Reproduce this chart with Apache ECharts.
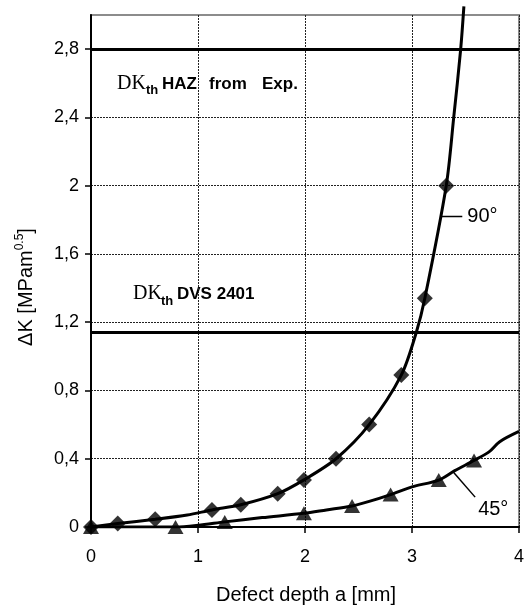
<!DOCTYPE html>
<html>
<head>
<meta charset="utf-8">
<script src="https://cdn.jsdelivr.net/npm/echarts@6/dist/echarts.min.js"></script>
<style>
  html, body { margin: 0; padding: 0; background: #fff; }
  #chart { width: 527px; height: 607px; }
</style>
</head>
<body>
<div id="chart"></div>
<script>
// axis ticks
var xTicks = [0, 1, 2, 3, 4];
var yTicks = [0, 0.4, 0.8, 1.2, 1.6, 2, 2.4, 2.8];

// threshold levels (DK_th HAZ from Exp., DK_th DVS 2401)
var refLevels = [2.8, 1.14];

// 90° curve: diamond markers and the drawn line (line keeps rising past the top)
var marks90 = [[0, 0], [0.25, 0.02], [0.6, 0.045], [1.13, 0.1], [1.4, 0.13], [1.745, 0.195],
  [1.99, 0.276], [2.29, 0.4], [2.6, 0.6], [2.9, 0.89], [3.12, 1.34], [3.32, 2.0]];
var line90 = [[0, 0], [0.25, 0.02], [0.6, 0.045], [0.9, 0.07], [1.13, 0.1], [1.4, 0.13], [1.745, 0.195],
  [1.99, 0.276], [2.29, 0.4], [2.6, 0.6], [2.9, 0.89], [3.04, 1.14], [3.12, 1.34], [3.32, 2.0],
  [3.39, 2.4], [3.455, 2.8], [3.485, 3.05]];

// 45° curve: triangle markers and the drawn line
var marks45 = [[0, 0], [0.79, 0], [1.25, 0.03], [1.99, 0.08], [2.44, 0.123], [2.8, 0.19],
  [3.25, 0.275], [3.58, 0.39]];
var line45 = [[0, 0], [0.79, 0], [1.0, 0.01], [1.25, 0.03], [1.6, 0.055], [1.99, 0.08], [2.2, 0.1],
  [2.44, 0.123], [2.6, 0.15], [2.8, 0.19], [3.0, 0.235], [3.25, 0.275], [3.4, 0.33], [3.58, 0.39],
  [3.72, 0.44], [3.82, 0.5], [4.0, 0.56]];

// label leaders
var leader90 = [[3.28, 1.82], [3.47, 1.82]];
var leader45 = [[3.39, 0.32], [3.59, 0.175]];

var sans = 'Liberation Sans, Arial, sans-serif';
var serif = 'Liberation Serif, Times New Roman, serif';

var option = {
  animation: false,
  backgroundColor: '#fff',
  grid: {
    left: 91, right: 1, top: 15, bottom: 80,
    show: true,
    borderColor: '#8c8c8c',
    borderWidth: 2
  },
  xAxis: {
    type: 'value',
    min: 0, max: 4, interval: 1,
    axisLine: { lineStyle: { color: '#000', width: 2 } },
    axisTick: { show: true, length: 6, lineStyle: { color: '#000', width: 1.5 }, customValues: xTicks },
    axisLabel: { color: '#000', fontFamily: sans, fontSize: 18, margin: 21, customValues: xTicks },
    splitLine: { show: true, lineStyle: { color: '#222', width: 1, type: [2, 1] } }
  },
  yAxis: {
    type: 'value',
    min: 0, max: 3, interval: 0.4,
    axisLine: { show: true, lineStyle: { color: '#000', width: 2 } },
    axisTick: { show: true, length: 6, lineStyle: { color: '#000', width: 1.5 }, customValues: yTicks },
    axisLabel: {
      color: '#000', fontFamily: sans, fontSize: 18, margin: 12, customValues: yTicks,
      formatter: function (v) { return String(+v.toFixed(1)).replace('.', ','); }
    },
    splitLine: { show: true, lineStyle: { color: '#222', width: 1, type: [2, 1] } }
  },
  series: [
    {
      name: 'ref', type: 'line', data: [], silent: true,
      markLine: {
        silent: true, symbol: ['none', 'none'], label: { show: false },
        lineStyle: { color: '#000', width: 3, type: 'solid' },
        data: refLevels.map(function (v) { return { yAxis: v }; })
      }
    },
    {
      name: '90° line', type: 'line', data: line90, smooth: 0.3, symbol: 'none', clip: false,
      lineStyle: { color: '#000', width: 3 }, z: 3
    },
    {
      name: '90°', type: 'scatter', data: marks90, symbol: 'diamond', symbolSize: 16,
      itemStyle: { color: '#000' }, z: 4
    },
    {
      name: '45° line', type: 'line', data: line45, smooth: 0.3, symbol: 'none',
      lineStyle: { color: '#000', width: 3 }, z: 3
    },
    {
      name: '45°', type: 'scatter', data: marks45, symbol: 'triangle', symbolSize: [16, 14],
      itemStyle: { color: '#000' }, z: 4
    },
    {
      name: 'lead90', type: 'line', data: leader90, symbol: 'none', silent: true,
      lineStyle: { color: '#000', width: 1.5 },
      endLabel: { show: true, formatter: '90°', color: '#000', fontFamily: sans, fontSize: 20, distance: 5 }
    },
    {
      name: 'lead45', type: 'line', data: leader45, symbol: 'none', silent: true,
      lineStyle: { color: '#000', width: 1.5 },
      endLabel: { show: true, formatter: '45°', color: '#000', fontFamily: sans, fontSize: 20,
        distance: 0, offset: [3, 12] }
    }
  ],
  graphic: [
    // y axis name
    {
      type: 'text', x: 25, y: 287, rotation: Math.PI / 2,
      style: {
        text: '{n|ΔK [MPam}{s|0.5}{n|]}',
        align: 'center', verticalAlign: 'middle',
        rich: {
          n: { fontFamily: sans, fontSize: 20, color: '#000', verticalAlign: 'bottom', lineHeight: 22 },
          s: { fontFamily: sans, fontSize: 12, color: '#000', verticalAlign: 'top', lineHeight: 22, padding: [0, 0, 8, 0] }
        }
      }
    },
    // x axis name
    {
      type: 'text', x: 306, y: 595,
      style: { text: 'Defect depth a [mm]', fontFamily: sans, fontSize: 20, fill: '#000', align: 'center', verticalAlign: 'middle' }
    },
    // DK_th HAZ from Exp.
    { type: 'text', x: 117, y: 84, style: { text: 'DK', fontFamily: serif, fontSize: 20, fill: '#000', verticalAlign: 'middle' } },
    { type: 'text', x: 146, y: 90, style: { text: 'th', fontFamily: sans, fontWeight: 'bold', fontSize: 13, fill: '#000', verticalAlign: 'middle' } },
    { type: 'text', x: 162, y: 84, style: { text: 'HAZ', fontFamily: sans, fontWeight: 'bold', fontSize: 17, fill: '#000', verticalAlign: 'middle' } },
    { type: 'text', x: 209, y: 84, style: { text: 'from', fontFamily: sans, fontWeight: 'bold', fontSize: 17, fill: '#000', verticalAlign: 'middle' } },
    { type: 'text', x: 262, y: 84, style: { text: 'Exp.', fontFamily: sans, fontWeight: 'bold', fontSize: 17, fill: '#000', verticalAlign: 'middle' } },
    // DK_th DVS 2401
    { type: 'text', x: 133, y: 294, style: { text: 'DK', fontFamily: serif, fontSize: 20, fill: '#000', verticalAlign: 'middle' } },
    { type: 'text', x: 161, y: 301, style: { text: 'th', fontFamily: sans, fontWeight: 'bold', fontSize: 13, fill: '#000', verticalAlign: 'middle' } },
    { type: 'text', x: 177, y: 294, style: { text: 'DVS 2401', fontFamily: sans, fontWeight: 'bold', fontSize: 17, fill: '#000', verticalAlign: 'middle' } }
  ]
};

var myChart = echarts.init(document.getElementById('chart'));
myChart.setOption(option);
</script>
</body>
</html>
